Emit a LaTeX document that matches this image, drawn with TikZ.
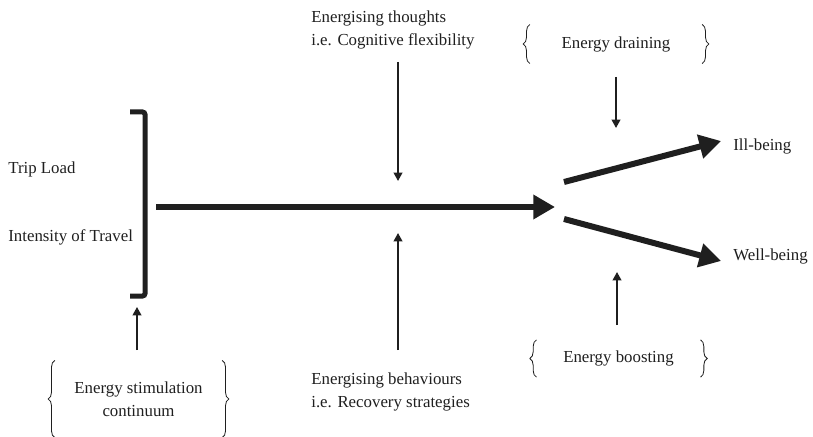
\documentclass[tikz,border=0pt]{standalone}
\usepackage{fontspec}
\setmainfont{Liberation Serif}
\usetikzlibrary{arrows.meta, decorations.pathreplacing, positioning}

\tikzset{
  lbl/.style={inner sep=0pt},
  bigarrow/.style={line width=3.6pt, -{Triangle[length=13pt,width=14pt]}},
  thinarrow/.style={line width=1pt, -{Triangle[length=5pt,width=5.2pt]}},
  curly/.style={decorate, decoration={brace, amplitude=4pt}, line width=0.5pt},
}

\begin{document}
\begin{tikzpicture}[x=0.6pt, y=-0.6pt, font=\fontsize{10.1}{13.8}\selectfont, color=black!88]
  \useasboundingbox (0,0) rectangle (813,437);

  % inputs and the bracket
  \node[lbl, anchor=west] (trip) at (8,169) {Trip Load};
  \node[lbl, anchor=west] (intensity) at (8,237) {Intensity of Travel};
  \draw[line width=3pt, rounded corners=1.5pt] (130,112) -- (145,112) -- (145,296) -- (130,296);
  \coordinate (bracket) at (156,207);
  \coordinate (split) at (555,207);
  \draw[bigarrow] (bracket) -- (split);

  % moderators
  \node[lbl, anchor=west, align=left] (thoughts) at (311,30) {Energising thoughts\\i.e. Cognitive flexibility};
  \node[lbl, anchor=west, align=left] (behaviours) at (311,392) {Energising behaviours\\i.e. Recovery strategies};
  \coordinate (t1) at (398,62);   \coordinate (t2) at (398,181);
  \coordinate (b1) at (398,350);  \coordinate (b2) at (398,233);
  \draw[thinarrow] (t1) -- (t2);
  \draw[thinarrow] (b1) -- (b2);

  % outcomes
  \node[lbl, anchor=west] (ill) at (733,146) {Ill-being};
  \node[lbl, anchor=west] (well) at (733,256) {Well-being};
  \coordinate (ill0) at (564,182);   \coordinate (ill1) at (721,141);
  \coordinate (well0) at (564,219);  \coordinate (well1) at (721,261);
  \draw[bigarrow] (ill0) -- (ill1);
  \draw[bigarrow] (well0) -- (well1);

  % energy boxes
  \node[align=center, minimum width=100pt, minimum height=46pt] (stim) at (138.5,399) {Energy stimulation\\continuum};
  \node[minimum width=103pt, minimum height=23pt] (drain) at (616,44) {Energy draining};
  \node[minimum width=98pt, minimum height=22pt] (boost) at (618.5,358.5) {Energy boosting};
  \foreach \n in {stim, drain, boost} {
    \draw[curly] (\n.south west) -- (\n.north west);
    \draw[curly] (\n.north east) -- (\n.south east);
  }
  \coordinate (s1) at (137,350);  \coordinate (s2) at (137,307);
  \coordinate (d1) at (616,77);   \coordinate (d2) at (616,128);
  \coordinate (u1) at (617,325);  \coordinate (u2) at (617,272);
  \draw[thinarrow] (s1) -- (s2);
  \draw[thinarrow] (d1) -- (d2);
  \draw[thinarrow] (u1) -- (u2);
\end{tikzpicture}
\end{document}
